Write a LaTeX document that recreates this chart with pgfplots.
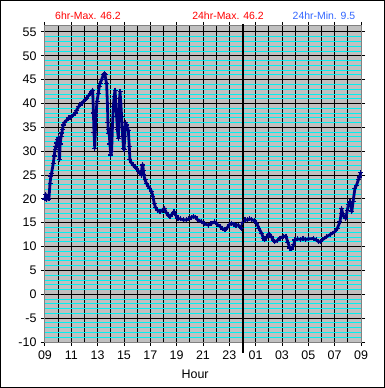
\documentclass[border=0pt]{standalone}
\usepackage{pgfplots}
\pgfplotsset{compat=1.18}
\usepackage{fontspec}
\setmainfont{Liberation Sans}
\definecolor{plotgray}{RGB}{192,192,192}
\definecolor{navyblue}{RGB}{0,0,128}
\definecolor{minblue}{RGB}{51,102,255}
\definecolor{gridcyan}{RGB}{0,240,240}
\pgfplotstableread{
h v
0.00 20.0
0.05 21.0
0.10 19.8
0.20 20.5
0.30 20.0
0.38 23.3
0.45 24.8
0.50 25.4
0.63 27.5
0.70 29.0
0.76 30.3
0.83 31.0
0.89 31.7
0.95 32.5
1.00 32.8
1.05 31.0
1.10 28.2
1.15 31.5
1.22 33.0
1.27 33.8
1.33 34.6
1.39 35.5
1.50 36.1
1.65 36.5
1.80 37.0
1.90 37.0
2.00 37.3
2.15 37.6
2.30 38.0
2.40 38.6
2.55 39.3
2.66 39.7
2.80 40.0
2.90 40.4
3.05 40.8
3.16 41.1
3.30 41.6
3.42 42.1
3.55 42.4
3.62 42.8
3.68 38.0
3.72 34.0
3.78 30.6
3.82 34.0
3.87 37.5
3.95 40.5
4.05 42.1
4.12 43.5
4.18 44.2
4.30 45.0
4.43 46.0
4.50 46.2
4.56 46.0
4.62 45.0
4.68 44.2
4.74 40.0
4.78 36.0
4.81 33.7
4.86 34.5
4.93 31.5
5.00 29.2
5.06 30.0
5.12 35.0
5.19 39.3
5.25 41.5
5.32 42.8
5.38 40.0
5.44 37.2
5.50 34.5
5.57 32.7
5.62 37.0
5.66 41.0
5.70 42.5
5.76 40.0
5.82 37.2
5.90 33.0
5.97 30.5
6.00 30.3
6.06 33.0
6.12 36.0
6.18 35.5
6.25 35.0
6.33 34.4
6.40 31.0
6.45 28.2
6.55 27.6
6.70 27.1
6.85 26.6
6.96 26.4
7.10 25.8
7.20 25.4
7.30 25.0
7.38 27.0
7.42 27.2
7.47 26.0
7.50 25.0
7.60 24.0
7.70 23.3
7.85 22.6
7.97 22.2
8.10 21.5
8.20 20.5
8.30 19.0
8.40 18.2
8.55 17.6
8.73 17.3
8.90 17.6
9.05 18.0
9.20 17.2
9.35 16.5
9.50 16.3
9.65 16.8
9.80 17.3
9.95 16.5
10.10 15.9
10.30 15.8
10.50 15.6
10.76 15.6
10.90 15.8
11.10 16.1
11.26 16.3
11.40 16.2
11.60 15.6
11.90 15.2
12.10 14.8
12.40 14.5
12.60 14.8
12.90 15.2
13.10 14.6
13.30 14.2
13.50 13.7
13.67 13.5
13.85 14.0
14.00 14.6
14.18 14.9
14.35 14.6
14.50 14.5
14.68 14.5
14.85 14.0
14.93 13.8
15.00 15.0
15.19 15.6
15.40 15.6
15.55 15.8
15.70 15.7
15.90 15.4
16.07 14.9
16.25 13.8
16.45 12.8
16.60 11.7
16.70 11.4
16.85 12.0
16.95 12.6
17.08 12.6
17.20 12.0
17.35 11.3
17.46 11.0
17.65 11.3
17.85 11.8
18.10 12.1
18.30 12.2
18.45 10.8
18.60 9.7
18.75 9.5
18.90 10.5
18.98 11.4
19.20 11.6
19.40 11.5
19.60 11.7
19.80 11.5
20.00 11.6
20.37 11.7
20.60 11.4
20.80 11.0
20.90 11.0
21.10 11.5
21.40 12.1
21.70 12.6
22.00 13.1
22.20 13.8
22.40 15.2
22.50 17.0
22.53 18.0
22.60 17.0
22.70 16.3
22.85 15.9
22.95 17.5
23.05 18.8
23.16 19.4
23.25 18.5
23.30 17.3
23.40 19.5
23.54 22.2
23.65 22.8
23.80 24.0
23.90 24.6
23.98 25.5
}\temps
\begin{document}
\begin{tikzpicture}[x=1bp,y=1bp]
\useasboundingbox (0,0) rectangle (385,388);
\draw[black,line width=1bp] (0.5,0.5) rectangle (384.5,387.5);
\begin{axis}[
  at={(45bp,46bp)}, anchor=south west,
  scale only axis, width=316bp, height=316bp,
  xmin=0, xmax=24, ymin=-10, ymax=56.25,
  clip=false,
  axis background/.style={fill=plotgray},
  axis line style={draw=gray, line width=1bp},
  xtick={0,2,...,24},
  xticklabels={09,11,13,15,17,19,21,23,01,03,05,07,09},
  minor xtick={0,1,...,23},
  ytick={-10,-5,...,55},
  minor y tick num=4,
  xminorgrids, ymajorgrids, yminorgrids,
  minor x grid style={black, line width=1bp},
  major y grid style={black, line width=1bp},
  minor y grid style={gridcyan, line width=0.9bp},
  tick align=outside,
  major tick length=4bp,
  minor tick length=0bp,
  major tick style={black, line width=1bp},
  minor tick style={draw=none},
  /pgf/number format/assume math mode=true,
  ticklabel style={font=\fontsize{12.5}{14}\selectfont},
  xticklabel style={yshift=-1bp},
  yticklabel style={xshift=-1bp},
  xlabel={Hour},
  xlabel style={font=\fontsize{12.5}{14}\selectfont, at={(axis description cs:0.475,0)}, anchor=north, yshift=-24bp},
]
\addplot[navyblue, line width=2.8bp, line join=round, mark=+, mark size=2.5bp, mark options={line width=1.2bp, solid}] table[x=h, y=v] {\temps};
\draw[black, line width=2bp] ([yshift=2bp]axis cs:15,56.25) -- ([yshift=-11bp]axis cs:15,-10);
\end{axis}
\begin{scope}[font=\fontsize{10.5}{12}\selectfont]
\node[anchor=base, text=red] at (88,369) {6hr-Max. 46.2};
\node[anchor=base, text=red] at (228,369) {24hr-Max. 46.2};
\node[anchor=base, text=minblue] at (324,369) {24hr-Min. 9.5};
\end{scope}
\end{tikzpicture}
\end{document}
